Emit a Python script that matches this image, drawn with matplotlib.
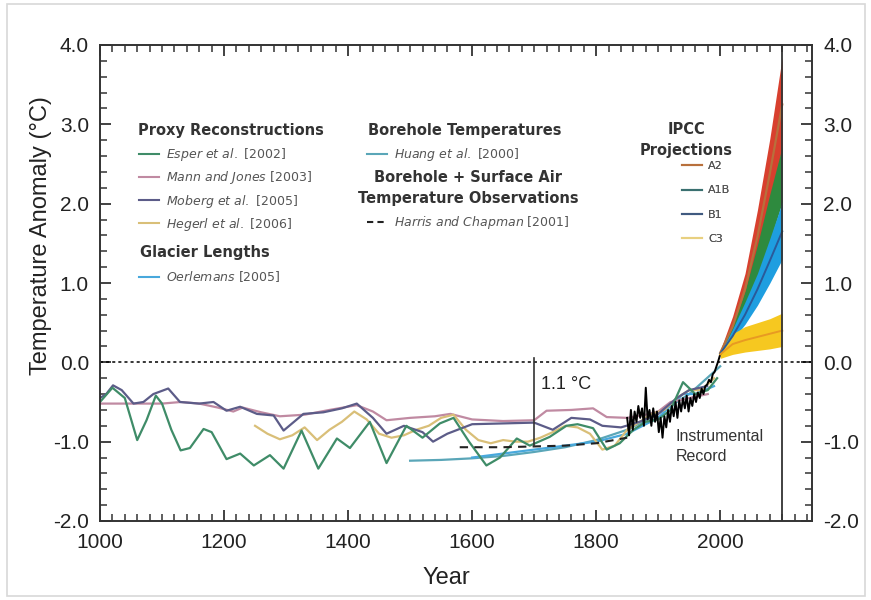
import matplotlib
matplotlib.use("Agg")
import matplotlib.pyplot as plt
from matplotlib.ticker import MultipleLocator, FormatStrFormatter
from matplotlib.lines import Line2D
from matplotlib.patches import Rectangle

plt.rcParams['font.family'] = ['Liberation Sans', 'DejaVu Sans']
plt.rcParams['mathtext.fontset'] = 'custom'
plt.rcParams['mathtext.it'] = 'DejaVu Sans:italic'
plt.rcParams['mathtext.rm'] = 'DejaVu Sans'

# ---------------- data ----------------
esper_years = [1000, 1020, 1040, 1060, 1075, 1090, 1100, 1115, 1130, 1145, 1167, 1180, 1204, 1226,
               1248, 1274, 1296, 1325, 1352, 1382, 1403, 1435, 1462, 1494, 1520, 1548, 1570, 1595,
               1623, 1645, 1672, 1693, 1725, 1752, 1770, 1795, 1817, 1838, 1860, 1880, 1900, 1920,
               1940, 1960, 1980, 1995]
esper_vals = [-0.50, -0.32, -0.45, -0.98, -0.73, -0.42, -0.52, -0.85, -1.11, -1.08, -0.84, -0.88, -1.22, -1.15,
              -1.30, -1.17, -1.34, -0.86, -1.34, -0.96, -1.08, -0.75, -1.27, -0.80, -0.95, -0.77, -0.70, -1.00,
              -1.30, -1.20, -0.96, -1.05, -0.94, -0.80, -0.78, -0.83, -1.10, -1.02, -0.85, -0.75, -0.72, -0.60,
              -0.25, -0.40, -0.35, -0.20]

mann_years = [1000, 1050, 1100, 1130, 1160, 1190, 1215, 1230, 1260, 1290, 1330, 1370, 1414, 1440,
              1462, 1500, 1540, 1565, 1600, 1650, 1700, 1720, 1760, 1795, 1817, 1850, 1880, 1900,
              1920, 1950, 1980]
mann_vals = [-0.52, -0.52, -0.52, -0.50, -0.52, -0.57, -0.62, -0.57, -0.63, -0.68, -0.66, -0.60, -0.54, -0.62,
             -0.73, -0.70, -0.68, -0.65, -0.72, -0.74, -0.73, -0.61, -0.60, -0.58, -0.69, -0.70, -0.66, -0.62,
             -0.50, -0.45, -0.40]

moberg_years = [1000, 1010, 1021, 1035, 1054, 1070, 1086, 1110, 1129, 1160, 1183, 1204, 1226, 1253,
                1280, 1296, 1328, 1360, 1390, 1414, 1440, 1462, 1490, 1520, 1537, 1560, 1600, 1650,
                1700, 1730, 1760, 1790, 1810, 1840, 1870, 1900, 1930, 1950, 1979]
moberg_vals = [-0.45, -0.40, -0.29, -0.35, -0.52, -0.50, -0.40, -0.33, -0.50, -0.52, -0.50, -0.61, -0.56, -0.65,
               -0.67, -0.86, -0.65, -0.63, -0.58, -0.52, -0.70, -0.90, -0.80, -0.88, -1.00, -0.90, -0.78, -0.77,
               -0.76, -0.85, -0.70, -0.72, -0.80, -0.82, -0.75, -0.65, -0.45, -0.35, -0.30]

hegerl_years = [1250, 1270, 1290, 1310, 1330, 1350, 1370, 1390, 1410, 1430, 1450, 1470, 1490, 1510,
                1530, 1550, 1570, 1590, 1610, 1630, 1650, 1670, 1690, 1710, 1730, 1750, 1770, 1790,
                1810, 1830, 1850, 1870, 1890, 1910, 1930, 1950, 1970, 1990]
hegerl_vals = [-0.80, -0.90, -0.97, -0.92, -0.82, -0.98, -0.85, -0.75, -0.62, -0.72, -0.90, -0.95, -0.92, -0.85,
               -0.80, -0.70, -0.66, -0.85, -0.98, -1.02, -0.98, -1.00, -1.00, -0.95, -0.88, -0.80, -0.82, -0.90,
               -1.10, -1.05, -0.85, -0.75, -0.65, -0.60, -0.45, -0.35, -0.35, -0.20]

oerlemans_years = [1600, 1650, 1700, 1750, 1800, 1850, 1880, 1900, 1920, 1940, 1960, 1990]
oerlemans_vals = [-1.20, -1.15, -1.10, -1.05, -1.00, -0.90, -0.78, -0.70, -0.55, -0.40, -0.40, -0.30]

huang_years = [1500, 1550, 1600, 1650, 1700, 1750, 1800, 1850, 1900, 1950, 2000]
huang_vals = [-1.24, -1.23, -1.21, -1.18, -1.13, -1.07, -0.98, -0.85, -0.65, -0.40, -0.05]

harris_years = [1580, 1650, 1700, 1750, 1800, 1850]
harris_vals = [-1.07, -1.07, -1.06, -1.05, -1.02, -0.95]

instr_years = [1850, 1853, 1856, 1859, 1862, 1865, 1868, 1871, 1874, 1877, 1880, 1883, 1886, 1889,
               1892, 1895, 1898, 1901, 1904, 1907, 1910, 1913, 1916, 1919, 1922, 1925, 1928, 1931,
               1934, 1937, 1940, 1943, 1946, 1949, 1952, 1955, 1958, 1961, 1964, 1967, 1970, 1973,
               1976, 1979, 1982, 1985, 1988, 1991, 1994, 1997, 2000]
instr_vals = [-0.70, -0.92, -0.60, -0.85, -0.62, -0.75, -0.55, -0.70, -0.58, -0.80, -0.32, -0.72, -0.60, -0.80,
              -0.58, -0.75, -0.62, -0.88, -0.70, -0.95, -0.68, -0.82, -0.60, -0.75, -0.55, -0.68, -0.50, -0.70,
              -0.48, -0.62, -0.45, -0.58, -0.42, -0.62, -0.45, -0.55, -0.40, -0.50, -0.38, -0.45, -0.33, -0.40,
              -0.30, -0.28, -0.22, -0.25, -0.15, -0.12, -0.05, 0.02, 0.10]

proj_years = [2000, 2020, 2040, 2060, 2080, 2100]
a2_low = [0.10, 0.38, 0.80, 1.38, 2.02, 2.70]
a2_high = [0.15, 0.58, 1.12, 1.92, 2.82, 3.85]
a2_mean = [0.12, 0.45, 0.92, 1.58, 2.38, 3.25]
a1b_low = [0.10, 0.33, 0.66, 1.08, 1.52, 2.02]
a1b_high = [0.12, 0.46, 0.90, 1.48, 2.12, 2.72]
b1_low = [0.10, 0.28, 0.48, 0.72, 1.00, 1.30]
b1_high = [0.12, 0.42, 0.76, 1.12, 1.56, 2.02]
b1_mean = [0.11, 0.33, 0.60, 0.92, 1.28, 1.65]
c3_low = [0.05, 0.10, 0.13, 0.15, 0.17, 0.20]
c3_high = [0.15, 0.36, 0.45, 0.50, 0.55, 0.62]
c3_mean = [0.10, 0.23, 0.28, 0.32, 0.36, 0.40]

step_year = 1700
step_low, step_high = -1.05, 0.05
projection_end = 2100

# ---------------- figure ----------------
fig = plt.figure(figsize=(8.71, 6.0), dpi=100)
fig.patches.append(Rectangle((7/871, 4/600), 858/871, 592/600, transform=fig.transFigure,
                             fill=False, edgecolor='#d8d8d8', linewidth=1.2))
ax = fig.add_axes([100/871, 79/600, 712/871, 476/600])

lw = 1.6
ax.plot(huang_years, huang_vals, color='#5aa6b8', lw=lw)
ax.plot(oerlemans_years, oerlemans_vals, color='#48a8dc', lw=lw)
ax.plot(mann_years, mann_vals, color='#c08aa2', lw=lw)
ax.plot(hegerl_years, hegerl_vals, color='#d9bf78', lw=lw)
ax.plot(moberg_years, moberg_vals, color='#5c5c88', lw=lw)
ax.plot(esper_years, esper_vals, color='#3f8c68', lw=lw)
ax.plot(harris_years, harris_vals, color='#222222', lw=1.5, ls=(0, (4, 3)))
ax.plot(instr_years, instr_vals, color='black', lw=1.4)

ax.fill_between(proj_years, a2_low, a2_high, color='#d8402e', lw=0)
ax.fill_between(proj_years, a1b_low, a1b_high, color='#2e8a3e', lw=0)
ax.plot(proj_years, a2_mean, color='#b8703c', lw=1.6)
ax.fill_between(proj_years, b1_low, b1_high, color='#1e9ee0', lw=0)
ax.plot(proj_years, b1_mean, color='#2a5a9a', lw=1.4)
ax.fill_between(proj_years, c3_low, c3_high, color='#f6c820', lw=0)
ax.plot(proj_years, c3_mean, color='#e89a22', lw=1.4)

ax.axhline(0, color='black', lw=1.1, ls=(0, (2, 2)))
ax.axvline(projection_end, color='#333333', lw=1.3)
ax.plot([step_year, step_year], [step_low, step_high], color='#333333', lw=1.2)
ax.text(step_year + 11, -0.28, '1.1 °C', fontsize=13, color='#222222', va='center')
ax.text(1928, -0.93, 'Instrumental', fontsize=11.5, color='#333333', va='center')
ax.text(1928, -1.19, 'Record', fontsize=11.5, color='#333333', va='center')

ax.set_xlim(1000, 2148)
ax.set_ylim(-2.0, 4.0)
ax.xaxis.set_major_locator(MultipleLocator(200))
ax.xaxis.set_minor_locator(MultipleLocator(20))
ax.yaxis.set_major_locator(MultipleLocator(1.0))
ax.yaxis.set_minor_locator(MultipleLocator(0.2))
ax.yaxis.set_major_formatter(FormatStrFormatter('%.1f'))
ax.tick_params(which='both', direction='in', top=True, right=True, labelright=True,
               color='#333333', labelsize=15, labelcolor='#222222')
ax.tick_params(which='major', length=8, width=1.3)
ax.tick_params(which='minor', length=5, width=1.1)
ax.tick_params(axis='x', which='major', pad=9)
ax.tick_params(axis='y', which='major', pad=8)
for s in ax.spines.values():
    s.set_color('#333333')
    s.set_linewidth(1.4)
ax.set_xlabel('Year', fontsize=17, color='#222222')
ax.set_ylabel('Temperature Anomaly (°C)', fontsize=17, color='#222222')
ax.xaxis.set_label_coords(0.487, -0.097)
ax.yaxis.set_label_coords(-0.068, 0.60)

# ---------------- legend blocks ----------------
def fx(px):
    return (px - 100) / 712

def fy(py):
    return (521 - py) / 476

head = dict(transform=ax.transAxes, fontsize=10.5, fontweight='bold', color='#333333', va='center',
            family='DejaVu Sans')
ax.text(fx(138), fy(130), 'Proxy Reconstructions', ha='left', **head)
ax.text(fx(140), fy(252), 'Glacier Lengths', ha='left', **head)
ax.text(fx(368), fy(130), 'Borehole Temperatures', ha='left', **head)
ax.text(fx(468), fy(177), 'Borehole + Surface Air', ha='center', **head)
ax.text(fx(468), fy(199), 'Temperature Observations', ha='center', **head)
ax.text(fx(686), fy(130), 'IPCC', ha='center', **head)
ax.text(fx(686), fy(150), 'Projections', ha='center', **head)

def block(handles, labels, x, y, size, spacing, hlen):
    leg = ax.legend(handles, labels, loc='upper left', bbox_to_anchor=(fx(x), fy(y)),
                    bbox_transform=ax.transAxes, frameon=False,
                    prop={'family': 'DejaVu Sans', 'size': size}, borderpad=0,
                    borderaxespad=0, handlelength=hlen, handletextpad=0.55, labelspacing=spacing,
                    labelcolor='#555555')
    ax.add_artist(leg)

block([Line2D([], [], color='#3f8c68', lw=1.5), Line2D([], [], color='#c08aa2', lw=1.5),
       Line2D([], [], color='#5c5c88', lw=1.5), Line2D([], [], color='#d9bf78', lw=1.5)],
      [r'$\it{Esper\ et\ al.}$ [2002]', r'$\it{Mann\ and\ Jones}$ [2003]',
       r'$\it{Moberg\ et\ al.}$ [2005]', r'$\it{Hegerl\ et\ al.}$ [2006]'], 139, 146, 9, 0.5, 1.6)
block([Line2D([], [], color='#48a8dc', lw=1.5)], [r'$\it{Oerlemans}$ [2005]'], 139, 269, 9, 0.5, 1.6)
block([Line2D([], [], color='#5aa6b8', lw=1.5)], [r'$\it{Huang\ et\ al.}$ [2000]'], 367, 146, 9, 0.5, 1.6)
block([Line2D([], [], color='#222222', lw=1.5, ls=(0, (3, 2)))],
      [r'$\it{Harris\ and\ Chapman}$ [2001]'], 367, 214, 9, 0.5, 1.6)
block([Line2D([], [], color='#b8703c', lw=1.5), Line2D([], [], color='#3a7070', lw=1.5),
       Line2D([], [], color='#405a80', lw=1.5), Line2D([], [], color='#e8d080', lw=1.5)],
      ['A2', 'A1B', 'B1', 'C3'], 682, 161, 8, 1.3, 1.8)

fig.savefig('out.png', dpi=100)
